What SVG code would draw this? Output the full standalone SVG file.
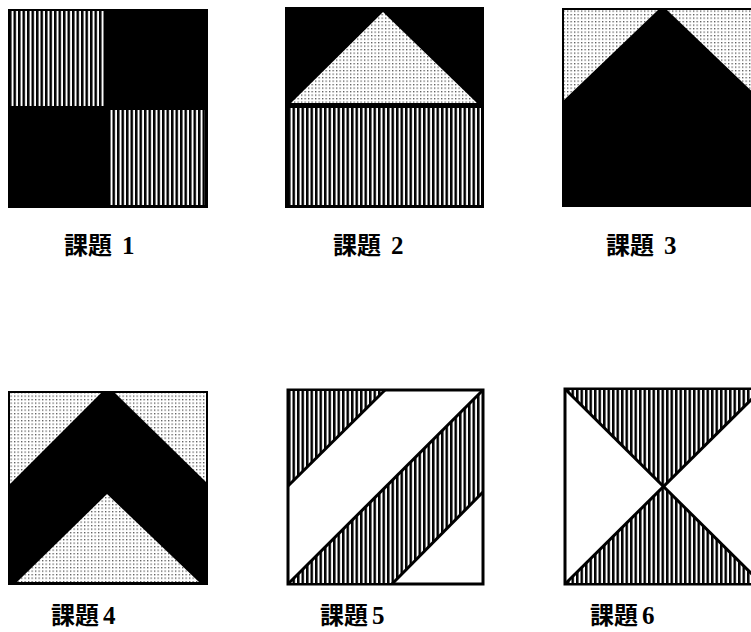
<svg xmlns="http://www.w3.org/2000/svg" width="751" height="632" viewBox="0 0 751 632">
<defs>
<pattern id="stripes" patternUnits="userSpaceOnUse" width="4.5" height="10">
<rect width="4.5" height="10" fill="#fff"/>
<rect width="2.5" height="10" fill="#000"/>
</pattern>
<pattern id="dots" patternUnits="userSpaceOnUse" width="3.5" height="3.5">
<rect width="3.5" height="3.5" fill="#fff"/>
<rect width="1.3" height="1.3" fill="#555"/>
</pattern>
</defs>
<style>
.lbl{font-family:"Liberation Serif","Noto Sans CJK JP",serif;font-size:24px;font-weight:bold;fill:#000}
.num{font-size:25px}
.blk{fill:#000}
.frame{fill:#fff;stroke:#000;stroke-width:3}
.st{fill:url(#stripes)}
.dt{fill:url(#dots)}
.ln{fill:none;stroke:#000;stroke-width:3;stroke-linejoin:round}
</style>
<rect width="751" height="632" fill="#fff"/>

<g id="panel1">
<rect class="blk" x="8" y="9" width="200" height="199"/>
<rect class="st" x="10" y="11" width="95" height="95"/>
<rect class="st" x="110" y="110" width="95" height="95"/>
<text class="lbl" x="64" y="254">課題 <tspan class="num" dx="4">1</tspan></text>
</g>

<g id="panel2">
<rect class="blk" x="285" y="7" width="199" height="201"/>
<polygon class="dt" points="383,12 291,103 477,103"/>
<rect class="st" x="288" y="108" width="193" height="97"/>
<text class="lbl" x="333" y="254">課題 <tspan class="num" dx="4">2</tspan></text>
</g>

<g id="panel3">
<rect class="blk" x="562" y="8" width="200" height="199"/>
<polygon class="dt" points="564,10 658,10 564,100"/>
<polygon class="dt" points="667,10 760,10 760,99"/>
<text class="lbl" x="606" y="254">課題 <tspan class="num" dx="4">3</tspan></text>
</g>

<g id="panel4">
<rect class="blk" x="8" y="391" width="200" height="194"/>
<polygon class="dt" points="10,393 101,393 10,484"/>
<polygon class="dt" points="115,393 206,393 206,482"/>
<polygon class="dt" points="107,494 17,582 199,582"/>
<text class="lbl" x="51" y="624">課題<tspan class="num" dx="4">4</tspan></text>
</g>

<g id="panel5">
<rect class="frame" x="288" y="390" width="195" height="194"/>
<polygon class="st" points="289,391 385,391 289,485"/>
<polygon class="st" points="290,583 482,391 482,493 392,583"/>
<polyline class="ln" points="385,390 288,486"/>
<polyline class="ln" points="288,584 483,390"/>
<polyline class="ln" points="392,584 483,492"/>
<text class="lbl" x="320" y="624">課題<tspan class="num" dx="4">5</tspan></text>
</g>

<g id="panel6">
<rect class="frame" x="565" y="389" width="197" height="195"/>
<polygon class="st" points="566,390 761,390 663,487"/>
<polygon class="st" points="566,583 761,583 663,487"/>
<line class="ln" x1="565" y1="389" x2="762" y2="584"/>
<line class="ln" x1="565" y1="584" x2="762" y2="389"/>
<text class="lbl" x="590" y="624">課題<tspan class="num" dx="4">6</tspan></text>
</g>
</svg>
